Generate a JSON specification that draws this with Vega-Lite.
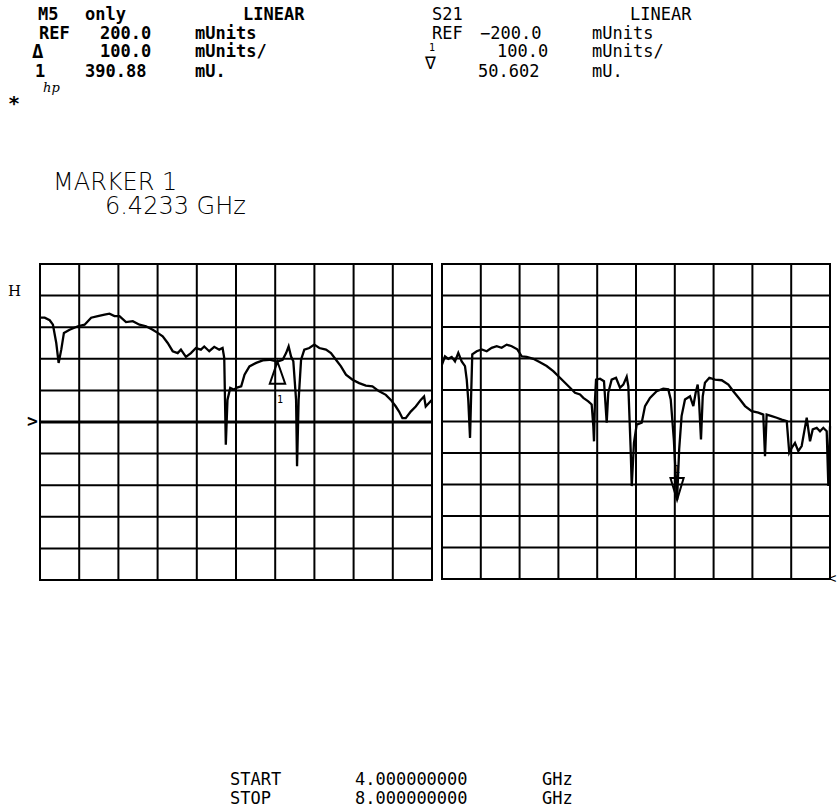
{
"$schema": "https://vega.github.io/schema/vega-lite/v6.json",
"width": 837, "height": 807,
"autosize": {"type": "none"},
"padding": 0,
"background": "white",
"config": {"view": {"stroke": null}, "axis": {"disable": true}, "text": {"font": "DejaVu Sans Mono", "fontSize": 17, "color": "black", "align": "left", "baseline": "middle"}},
"datasets": {
 "vgrid": [{"g":4.0},{"g":4.4},{"g":4.8},{"g":5.2},{"g":5.6},{"g":6.0},{"g":6.4},{"g":6.8},{"g":7.2},{"g":7.6},{"g":8.0}],
 "hgrid_l": [{"g":-300},{"g":-200},{"g":-100},{"g":0},{"g":100},{"g":200},{"g":300},{"g":400},{"g":500},{"g":600},{"g":700}],
 "hgrid_r": [{"g":-200},{"g":-100},{"g":0},{"g":100},{"g":200},{"g":300},{"g":400},{"g":500},{"g":600},{"g":700},{"g":800}],
 "s11": [{"f":4.0,"v":530},{"f":4.048,"v":530},{"f":4.099,"v":522},{"f":4.132,"v":508},{"f":4.166,"v":450},{"f":4.19,"v":387},{"f":4.217,"v":429},{"f":4.244,"v":482},{"f":4.302,"v":492},{"f":4.387,"v":503},{"f":4.455,"v":508},{"f":4.522,"v":530},{"f":4.59,"v":535},{"f":4.659,"v":540},{"f":4.709,"v":543},{"f":4.76,"v":535},{"f":4.811,"v":535},{"f":4.878,"v":516},{"f":4.947,"v":519},{"f":5.015,"v":508},{"f":5.082,"v":503},{"f":5.15,"v":492},{"f":5.201,"v":482},{"f":5.252,"v":471},{"f":5.303,"v":450},{"f":5.354,"v":424},{"f":5.405,"v":418},{"f":5.438,"v":429},{"f":5.489,"v":406},{"f":5.54,"v":418},{"f":5.591,"v":434},{"f":5.642,"v":429},{"f":5.676,"v":439},{"f":5.727,"v":424},{"f":5.778,"v":438},{"f":5.829,"v":429},{"f":5.863,"v":434},{"f":5.88,"v":403},{"f":5.896,"v":128},{"f":5.913,"v":270},{"f":5.941,"v":308},{"f":5.982,"v":302},{"f":6.002,"v":308},{"f":6.053,"v":313},{"f":6.087,"v":350},{"f":6.137,"v":376},{"f":6.206,"v":387},{"f":6.273,"v":395},{"f":6.341,"v":397},{"f":6.4233,"v":391},{"f":6.476,"v":397},{"f":6.511,"v":418},{"f":6.537,"v":439},{"f":6.562,"v":407},{"f":6.585,"v":392},{"f":6.613,"v":270},{"f":6.623,"v":60},{"f":6.639,"v":270},{"f":6.664,"v":397},{"f":6.697,"v":429},{"f":6.748,"v":434},{"f":6.799,"v":445},{"f":6.85,"v":434},{"f":6.918,"v":429},{"f":6.969,"v":418},{"f":7.02,"v":397},{"f":7.071,"v":376},{"f":7.122,"v":350},{"f":7.189,"v":334},{"f":7.257,"v":323},{"f":7.325,"v":315},{"f":7.392,"v":313},{"f":7.461,"v":297},{"f":7.529,"v":286},{"f":7.58,"v":270},{"f":7.631,"v":249},{"f":7.664,"v":233},{"f":7.698,"v":212},{"f":7.732,"v":212},{"f":7.783,"v":233},{"f":7.834,"v":249},{"f":7.885,"v":270},{"f":7.919,"v":281},{"f":7.936,"v":249},{"f":7.969,"v":260},{"f":8.0,"v":270}],
 "s21": [{"f":4.0,"v":481},{"f":4.031,"v":507},{"f":4.065,"v":499},{"f":4.1,"v":505},{"f":4.134,"v":491},{"f":4.168,"v":518},{"f":4.203,"v":491},{"f":4.237,"v":476},{"f":4.255,"v":433},{"f":4.271,"v":367},{"f":4.289,"v":248},{"f":4.299,"v":367},{"f":4.312,"v":513},{"f":4.358,"v":523},{"f":4.409,"v":529},{"f":4.461,"v":523},{"f":4.512,"v":534},{"f":4.564,"v":539},{"f":4.615,"v":534},{"f":4.667,"v":544},{"f":4.719,"v":539},{"f":4.776,"v":529},{"f":4.822,"v":507},{"f":4.873,"v":505},{"f":4.941,"v":499},{"f":5.01,"v":488},{"f":5.079,"v":476},{"f":5.147,"v":460},{"f":5.216,"v":439},{"f":5.268,"v":423},{"f":5.32,"v":407},{"f":5.371,"v":391},{"f":5.423,"v":386},{"f":5.457,"v":375},{"f":5.508,"v":364},{"f":5.543,"v":354},{"f":5.56,"v":285},{"f":5.567,"v":237},{"f":5.577,"v":367},{"f":5.588,"v":433},{"f":5.629,"v":436},{"f":5.67,"v":428},{"f":5.698,"v":296},{"f":5.714,"v":391},{"f":5.749,"v":433},{"f":5.794,"v":439},{"f":5.835,"v":407},{"f":5.869,"v":417},{"f":5.904,"v":442},{"f":5.921,"v":412},{"f":5.945,"v":211},{"f":5.956,"v":95},{"f":5.979,"v":232},{"f":6.007,"v":290},{"f":6.059,"v":296},{"f":6.093,"v":349},{"f":6.144,"v":375},{"f":6.213,"v":396},{"f":6.281,"v":404},{"f":6.333,"v":402},{"f":6.358,"v":370},{"f":6.39,"v":243},{"f":6.4233,"v":50.6},{"f":6.445,"v":211},{"f":6.47,"v":317},{"f":6.505,"v":370},{"f":6.557,"v":380},{"f":6.591,"v":349},{"f":6.615,"v":391},{"f":6.636,"v":417},{"f":6.649,"v":370},{"f":6.67,"v":243},{"f":6.688,"v":380},{"f":6.711,"v":423},{"f":6.756,"v":439},{"f":6.814,"v":433},{"f":6.884,"v":431},{"f":6.952,"v":417},{"f":7.003,"v":396},{"f":7.072,"v":370},{"f":7.124,"v":349},{"f":7.193,"v":333},{"f":7.261,"v":328},{"f":7.312,"v":322},{"f":7.33,"v":190},{"f":7.347,"v":322},{"f":7.399,"v":317},{"f":7.451,"v":312},{"f":7.502,"v":306},{"f":7.554,"v":301},{"f":7.58,"v":201},{"f":7.605,"v":216},{"f":7.639,"v":232},{"f":7.673,"v":206},{"f":7.708,"v":222},{"f":7.732,"v":264},{"f":7.76,"v":312},{"f":7.794,"v":237},{"f":7.822,"v":275},{"f":7.863,"v":280},{"f":7.897,"v":269},{"f":7.931,"v":280},{"f":7.966,"v":269},{"f":7.983,"v":95},{"f":8.0,"v":285}],
 "m11": [{"f":6.4233,"v":390.88}],
 "m21": [{"f":6.4233,"v":50.602}]
},
"resolve": {"scale": {"x": "independent", "y": "independent"}},
"layer": [
 {"layer": [
  {"data": {"name": "vgrid"}, "mark": {"type": "rule", "stroke": "black", "strokeWidth": 2, "strokeCap": "square"},
   "encoding": {"x": {"field": "g", "type": "quantitative", "axis": null, "scale": {"domain": [4, 8], "range": [40, 432], "nice": false, "zero": false}},
                "y": {"datum": -300, "axis": null, "scale": {"domain": [-300, 700], "range": [580, 264], "nice": false, "zero": false}},
                "y2": {"datum": 700}}},
  {"data": {"name": "hgrid_l"}, "mark": {"type": "rule", "stroke": "black", "strokeWidth": 2, "strokeCap": "square"},
   "encoding": {"y": {"field": "g", "type": "quantitative", "axis": null}, "x": {"datum": 4, "axis": null}, "x2": {"datum": 8}}},
  {"data": {"values": [{}]}, "mark": {"type": "rule", "stroke": "black", "strokeWidth": 3},
   "encoding": {"y": {"datum": 200}, "x": {"datum": 4}, "x2": {"datum": 8}}},
  {"data": {"name": "s11"}, "mark": {"type": "line", "stroke": "black", "strokeWidth": 2.3},
   "encoding": {"x": {"field": "f", "type": "quantitative"}, "y": {"field": "v", "type": "quantitative"}}},
  {"data": {"name": "m11"}, "mark": {"type": "point", "shape": "M0,0L-0.7,2L0.7,2Z", "size": 484, "filled": false, "stroke": "black", "opacity": 1, "strokeWidth": 2},
   "encoding": {"x": {"field": "f", "type": "quantitative"}, "y": {"field": "v", "type": "quantitative"}}},
  {"data": {"values": [{}]}, "mark": {"type": "text", "text": "1", "fontSize": 10, "align": "center"}, "encoding": {"x": {"datum": 6.45}, "y": {"datum": 270}}},

  {"data": {"values": [{}]}, "mark": {"type": "text", "text": "M5", "fontWeight": "bold"}, "encoding": {"x": {"datum": 3.98}, "y": {"datum": 1488}}},
  {"data": {"values": [{}]}, "mark": {"type": "text", "text": "only", "fontWeight": "bold"}, "encoding": {"x": {"datum": 4.459}, "y": {"datum": 1488}}},
  {"data": {"values": [{}]}, "mark": {"type": "text", "text": "LINEAR", "fontWeight": "bold"}, "encoding": {"x": {"datum": 6.071}, "y": {"datum": 1488}}},
  {"data": {"values": [{}]}, "mark": {"type": "text", "text": "REF", "fontWeight": "bold"}, "encoding": {"x": {"datum": 3.99}, "y": {"datum": 1428}}},
  {"data": {"values": [{}]}, "mark": {"type": "text", "text": "200.0", "fontWeight": "bold"}, "encoding": {"x": {"datum": 4.612}, "y": {"datum": 1428}}},
  {"data": {"values": [{}]}, "mark": {"type": "text", "text": "mUnits", "fontWeight": "bold"}, "encoding": {"x": {"datum": 5.582}, "y": {"datum": 1428}}},
  {"data": {"values": [{}]}, "mark": {"type": "text", "text": "Δ", "fontWeight": "bold", "fontSize": 19}, "encoding": {"x": {"datum": 3.918}, "y": {"datum": 1372}}},
  {"data": {"values": [{}]}, "mark": {"type": "text", "text": "100.0", "fontWeight": "bold"}, "encoding": {"x": {"datum": 4.612}, "y": {"datum": 1370}}},
  {"data": {"values": [{}]}, "mark": {"type": "text", "text": "mUnits/", "fontWeight": "bold"}, "encoding": {"x": {"datum": 5.582}, "y": {"datum": 1370}}},
  {"data": {"values": [{}]}, "mark": {"type": "text", "text": "1", "fontWeight": "bold"}, "encoding": {"x": {"datum": 3.949}, "y": {"datum": 1309}}},
  {"data": {"values": [{}]}, "mark": {"type": "text", "text": "390.88", "fontWeight": "bold"}, "encoding": {"x": {"datum": 4.459}, "y": {"datum": 1309}}},
  {"data": {"values": [{}]}, "mark": {"type": "text", "text": "mU.", "fontWeight": "bold"}, "encoding": {"x": {"datum": 5.582}, "y": {"datum": 1309}}},
  {"data": {"values": [{}]}, "mark": {"type": "text", "text": "hp", "font": "DejaVu Serif", "fontStyle": "italic", "fontSize": 13}, "encoding": {"x": {"datum": 4.031}, "y": {"datum": 1257}}},
  {"data": {"values": [{}]}, "mark": {"type": "text", "text": "*", "fontWeight": "bold", "fontSize": 20}, "encoding": {"x": {"datum": 3.673}, "y": {"datum": 1205}}},
  {"data": {"values": [{}]}, "mark": {"type": "text", "text": "MARKER 1", "font": "DejaVu Sans", "fontWeight": 200, "fontSize": 24}, "encoding": {"x": {"datum": 4.133}, "y": {"datum": 955}}},
  {"data": {"values": [{}]}, "mark": {"type": "text", "text": "6.4233 GHz", "font": "DejaVu Sans", "fontWeight": 200, "fontSize": 24}, "encoding": {"x": {"datum": 4.663}, "y": {"datum": 880}}},
  {"data": {"values": [{}]}, "mark": {"type": "text", "text": "H", "font": "DejaVu Serif", "fontSize": 15}, "encoding": {"x": {"datum": 3.673}, "y": {"datum": 615}}},
  {"data": {"values": [{}]}, "mark": {"type": "text", "text": ">", "fontWeight": "bold", "fontSize": 18}, "encoding": {"x": {"datum": 3.867}, "y": {"datum": 200}}},

  {"data": {"values": [{}]}, "mark": {"type": "text", "text": "S21"}, "encoding": {"x": {"datum": 8.0}, "y": {"datum": 1488}}},
  {"data": {"values": [{}]}, "mark": {"type": "text", "text": "LINEAR"}, "encoding": {"x": {"datum": 10.02}, "y": {"datum": 1488}}},
  {"data": {"values": [{}]}, "mark": {"type": "text", "text": "REF"}, "encoding": {"x": {"datum": 8.0}, "y": {"datum": 1428}}},
  {"data": {"values": [{}]}, "mark": {"type": "text", "text": "−200.0"}, "encoding": {"x": {"datum": 8.49}, "y": {"datum": 1428}}},
  {"data": {"values": [{}]}, "mark": {"type": "text", "text": "mUnits"}, "encoding": {"x": {"datum": 9.633}, "y": {"datum": 1428}}},
  {"data": {"values": [{}]}, "mark": {"type": "text", "text": "1", "fontSize": 10}, "encoding": {"x": {"datum": 7.97}, "y": {"datum": 1382}}},
  {"data": {"values": [{}]}, "mark": {"type": "text", "text": "∇", "fontSize": 18}, "encoding": {"x": {"datum": 7.929}, "y": {"datum": 1333}}},
  {"data": {"values": [{}]}, "mark": {"type": "text", "text": "100.0"}, "encoding": {"x": {"datum": 8.663}, "y": {"datum": 1370}}},
  {"data": {"values": [{}]}, "mark": {"type": "text", "text": "mUnits/"}, "encoding": {"x": {"datum": 9.633}, "y": {"datum": 1370}}},
  {"data": {"values": [{}]}, "mark": {"type": "text", "text": "50.602"}, "encoding": {"x": {"datum": 8.469}, "y": {"datum": 1309}}},
  {"data": {"values": [{}]}, "mark": {"type": "text", "text": "mU."}, "encoding": {"x": {"datum": 9.633}, "y": {"datum": 1309}}},

  {"data": {"values": [{}]}, "mark": {"type": "text", "text": "START"}, "encoding": {"x": {"datum": 5.939}, "y": {"datum": -933}}},
  {"data": {"values": [{}]}, "mark": {"type": "text", "text": "4.000000000"}, "encoding": {"x": {"datum": 7.214}, "y": {"datum": -933}}},
  {"data": {"values": [{}]}, "mark": {"type": "text", "text": "GHz"}, "encoding": {"x": {"datum": 9.122}, "y": {"datum": -933}}},
  {"data": {"values": [{}]}, "mark": {"type": "text", "text": "STOP"}, "encoding": {"x": {"datum": 5.939}, "y": {"datum": -994}}},
  {"data": {"values": [{}]}, "mark": {"type": "text", "text": "8.000000000"}, "encoding": {"x": {"datum": 7.214}, "y": {"datum": -994}}},
  {"data": {"values": [{}]}, "mark": {"type": "text", "text": "GHz"}, "encoding": {"x": {"datum": 9.122}, "y": {"datum": -994}}}
 ]},
 {"layer": [
  {"data": {"name": "vgrid"}, "mark": {"type": "rule", "stroke": "black", "strokeWidth": 2, "strokeCap": "square"},
   "encoding": {"x": {"field": "g", "type": "quantitative", "axis": null, "scale": {"domain": [4, 8], "range": [442, 830], "nice": false, "zero": false}},
                "y": {"datum": -200, "axis": null, "scale": {"domain": [-200, 800], "range": [579, 264], "nice": false, "zero": false}},
                "y2": {"datum": 800}}},
  {"data": {"name": "hgrid_r"}, "mark": {"type": "rule", "stroke": "black", "strokeWidth": 2, "strokeCap": "square"},
   "encoding": {"y": {"field": "g", "type": "quantitative", "axis": null}, "x": {"datum": 4, "axis": null}, "x2": {"datum": 8}}},
  {"data": {"name": "s21"}, "mark": {"type": "line", "stroke": "black", "strokeWidth": 2.3},
   "encoding": {"x": {"field": "f", "type": "quantitative"}, "y": {"field": "v", "type": "quantitative"}}},
  {"data": {"name": "m21"}, "mark": {"type": "point", "shape": "M0,0L-0.6,-2L0.6,-2Z", "size": 484, "filled": false, "stroke": "black", "opacity": 1, "strokeWidth": 2},
   "encoding": {"x": {"field": "f", "type": "quantitative"}, "y": {"field": "v", "type": "quantitative"}}},
  {"data": {"values": [{}]}, "mark": {"type": "text", "text": "1", "fontSize": 10, "align": "center"}, "encoding": {"x": {"datum": 6.4233}, "y": {"datum": 145}}},
  {"data": {"values": [{}]}, "mark": {"type": "text", "text": "<", "fontSize": 14}, "encoding": {"x": {"datum": 7.98}, "y": {"datum": -200}}}
 ]}
]
}
